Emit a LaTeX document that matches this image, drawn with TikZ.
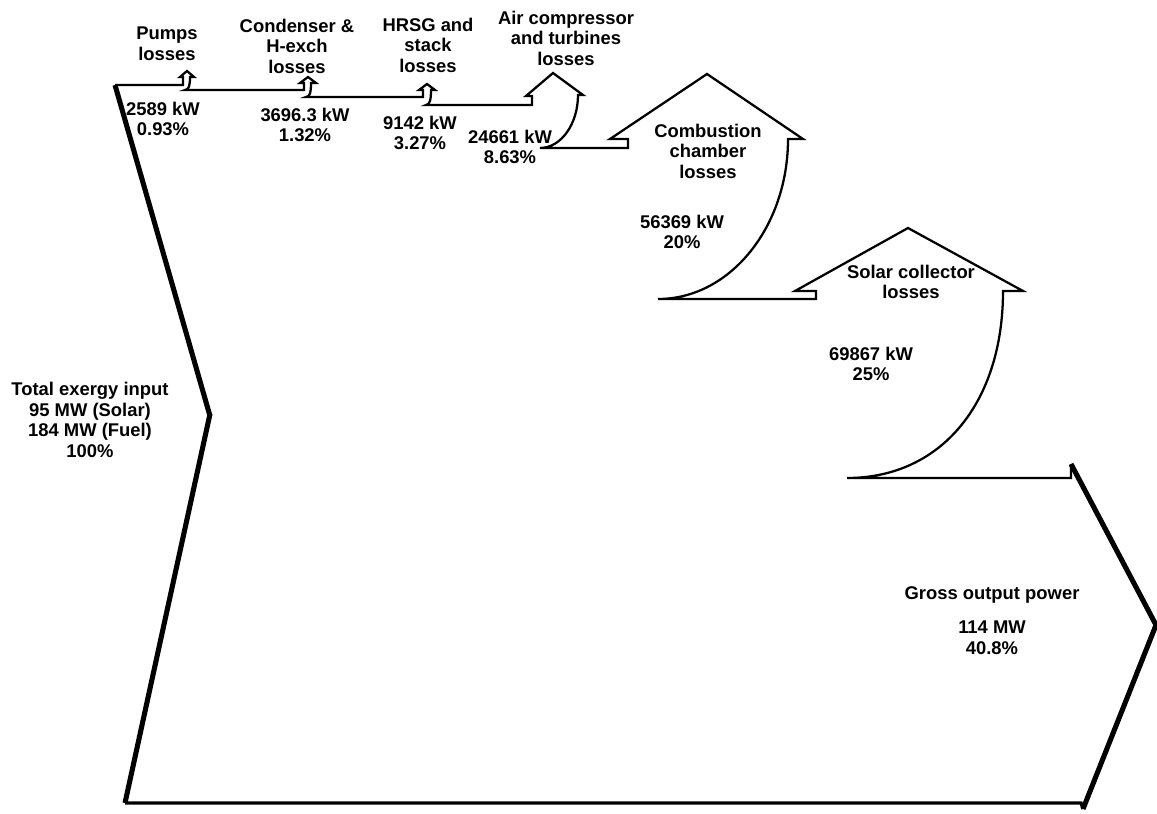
\documentclass[tikz,border=0pt]{standalone}
\usepackage{fontspec}
\setmainfont{Liberation Sans}
\begin{document}
\begin{tikzpicture}[x=0.75pt,y=-0.75pt,
  lbl/.style={font=\bfseries\fontsize{13.8}{15.4}\selectfont, align=center, inner sep=0pt},
  edge/.style={line width=1.7pt, line join=miter},
  thickedge/.style={line width=3.8pt},
  baseedge/.style={line width=2.5pt}]
\useasboundingbox (0,0) rectangle (1157,814);
% corner coordinates
\coordinate (tl) at (115,85);
\coordinate (lmid) at (210,416);
\coordinate (bl) at (125,803);
\coordinate (br) at (1081,803);
\coordinate (brn) at (1083,809);
\coordinate (tip) at (1156,625);
\coordinate (trn) at (1071,464);
\coordinate (tr) at (1071,478);
% top edge with loss arrows
\draw[edge] (tl) -- (183,85) -- (183,77) -- (180,77) -- (187,71) -- (194,77) -- (190,77)
  .. controls (190,85) and (189,90) .. (185,90)
  -- (304,90) -- (304,83) -- (300,83) -- (308,77) -- (316,83) -- (311,83)
  .. controls (311,92) and (310,97) .. (306,97)
  -- (423,97) -- (423,90) -- (419,90) -- (427,84) -- (435,90) -- (431,90)
  .. controls (431,99) and (430,105) .. (426,105)
  -- (532,105) -- (532,96) -- (526,96) -- (553,73) -- (583,95) -- (578,95)
  .. controls (578,124) and (561,148) .. (540,148)
  -- (628,148) -- (628,139) -- (610,139) -- (707,74) -- (803,139) -- (788,139)
  .. controls (788,227) and (730,299) .. (658,299)
  -- (816,299) -- (816,291) -- (795,291) -- (908,228) -- (1023,291) -- (1003,291)
  .. controls (1003,403) and (941,478) .. (847,478)
  -- (tr) -- (trn);
% left chevron
\draw[thickedge] (tl) -- (lmid);
\draw[thickedge] ([yshift=1.5pt]lmid) -- (bl);
% bottom edge
\draw[baseedge] (bl) -- (br) -- (brn);
% right chevron
\draw[thickedge, line join=miter] (trn) -- (tip) -- (brn);
% labels
\node[lbl] (pl) at (167,44) {Pumps\\losses};
\node[lbl] (cl) at (297,46) {Condenser \&\\H-exch\\losses};
\node[lbl] (hl) at (428,45) {HRSG and\\stack\\losses};
\node[lbl] (al) at (566,38) {Air compressor\\and turbines\\losses};
\node[lbl] (pv) at (163,119) {2589 kW\\0.93\%};
\node[lbl] (cv) at (305,125) {3696.3 kW\\1.32\%};
\node[lbl] (hv) at (420,133) {9142 kW\\3.27\%};
\node[lbl] (av) at (510,147) {24661 kW\\8.63\%};
\node[lbl] (ccl) at (708,151) {Combustion\\chamber\\losses};
\node[lbl] (ccv) at (682,232) {56369 kW\\20\%};
\node[lbl] (scl) at (911,282) {Solar collector\\losses};
\node[lbl] (scv) at (871,364) {69867 kW\\25\%};
\node[lbl] (tin) at (90,420) {Total exergy input\\95 MW (Solar)\\184 MW (Fuel)\\100\%};
\node[lbl] (gop) at (992,595) {Gross output power};
\node[lbl] (gov) at (992,638) {114 MW\\40.8\%};
\end{tikzpicture}
\end{document}
